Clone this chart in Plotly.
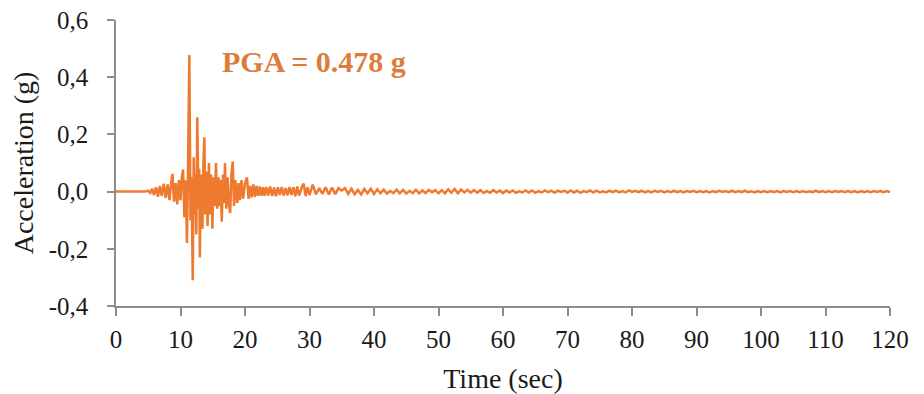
import numpy as np
import plotly.graph_objects as go

# Strong-motion part (time in s, acceleration in g)
t_main = [0, 4.5, 5.0, 5.3, 5.6, 5.9, 6.2, 6.5, 6.8, 7.1, 7.4, 7.7, 8.0, 8.3, 8.5, 8.75, 9.0,
          9.25, 9.5, 9.75, 10.0, 10.2, 10.4, 10.6, 10.8, 11.0, 11.15, 11.37, 11.55, 11.7, 11.9,
          12.05, 12.2, 12.35, 12.45, 12.6, 12.8, 12.9, 13.0, 13.15, 13.3, 13.4, 13.55, 13.7,
          13.85, 14.0, 14.2, 14.4, 14.6, 14.75, 14.95, 15.1, 15.3, 15.5, 15.7, 15.9, 16.05,
          16.2, 16.4, 16.6, 16.75, 16.9, 17.1, 17.3, 17.5, 17.7, 17.9, 18.1, 18.3, 18.5, 18.8,
          19.0, 19.2, 19.45, 19.7, 20.0, 20.3, 20.55, 20.8, 21.05, 21.3, 21.55, 21.8, 22.05,
          22.3, 22.55, 22.8, 23.05, 23.3, 23.6, 23.9, 24.2, 24.5, 24.8, 25.1, 25.4, 25.7, 26.0,
          26.3, 26.6, 26.9, 27.2, 27.5, 27.8, 28.1, 28.4, 28.8, 29.1, 29.4, 29.7, 30.0]
a_main = [0, 0, 0.003, -0.005, 0.010, -0.012, 0.015, -0.018, 0.020, -0.015, 0.028, -0.022,
          0.025, -0.030, 0.020, 0.062, -0.035, 0.030, -0.045, 0.040, -0.030, 0.050, 0.077,
          -0.090, 0.040, -0.180, 0.060, 0.478, -0.100, 0.050, -0.310, 0.120, -0.080, 0.060,
          -0.150, 0.260, -0.060, 0.080, -0.230, 0.060, -0.050, -0.130, 0.100, 0.190, -0.080,
          0.070, -0.120, 0.100, -0.080, 0.060, -0.130, 0.050, -0.050, 0.100, -0.060, 0.050,
          -0.050, 0.040, -0.105, 0.060, -0.040, 0.100, -0.060, 0.050, -0.040, -0.075, 0.060,
          0.105, -0.050, 0.040, -0.040, 0.030, -0.030, 0.040, -0.025, 0.030, 0.050, -0.025,
          0.020, -0.020, 0.025, -0.018, 0.020, -0.015, 0.018, -0.015, 0.015, -0.015, 0.016,
          -0.014, 0.018, -0.015, 0.014, -0.016, 0.015, -0.012, 0.016, -0.014, 0.012, -0.013,
          0.016, -0.012, 0.015, -0.016, 0.018, -0.014, 0.016, 0.028, -0.016, 0.015, -0.012,
          0.024]

# Coda (30.5 s to 120 s, sampled every 0.5 s)
a_tail = [
    -0.010, 0.012, -0.008, 0.015, -0.010, 0.014, -0.009, 0.012, 0.004, 0.012,
    -0.008, 0.010, -0.009, 0.006, -0.010, 0.009, -0.006, 0.010, -0.008, 0.008,
    -0.006, 0.007, -0.007, 0.002, -0.005, 0.007, -0.006, 0.006, -0.007, 0.003,
    -0.005, 0.006, -0.006, 0.004, -0.005, 0.006, -0.002, 0.005, -0.006, 0.005,
    -0.006, 0.008, -0.004, 0.009, -0.006, 0.007, -0.003, 0.006, -0.004, 0.005,
    -0.004, 0.005, -0.005, 0.002, -0.004, 0.005, -0.003, 0.004, -0.005, 0.004,
    -0.003, 0.004, -0.004, 0.001, -0.003, 0.004, -0.003, 0.004, -0.004, 0.002,
    -0.003, 0.004, -0.002, 0.003, -0.004, 0.003, -0.001, 0.003, -0.003, 0.004,
    -0.003, 0.003, -0.004, 0.002, -0.002, 0.004, -0.003, 0.003, -0.003, 0.001,
    -0.003, 0.003, -0.002, 0.003, -0.003, 0.002, -0.003, 0.004, -0.001, 0.003,
    -0.002, 0.003, -0.003, 0.002, -0.003, 0.003, -0.001, 0.003, -0.003, 0.002,
    -0.002, 0.003, -0.002, 0.002, -0.003, 0.002, -0.001, 0.003, -0.002, 0.002,
    -0.002, 0.002, -0.003, 0.002, -0.002, 0.003, -0.001, 0.002, -0.002, 0.003,
    -0.002, 0.002, -0.002, 0.003, -0.002, 0.001, -0.003, 0.002, -0.002, 0.002,
    -0.002, 0.002, -0.002, 0.002, -0.003, 0.002, -0.001, 0.002, -0.002, 0.002,
    -0.002, 0.002, -0.002, 0.001, -0.002, 0.003, -0.002, 0.002, -0.002, 0.002,
    -0.002, 0.002, -0.001, 0.002, -0.002, 0.002, -0.002, 0.002, -0.003, 0.002,
    -0.002, 0.002, -0.002, 0.002, -0.001, 0.002, -0.002, 0.002, -0.002, 0.001,
]
t_tail = list(np.arange(30.5, 120.001, 0.5))

x_ticks = [0, 10, 20, 30, 40, 50, 60, 70, 80, 90, 100, 110, 120]
y_ticks = [-0.4, -0.2, 0.0, 0.2, 0.4, 0.6]
y_tick_labels = ["-0,4", "-0,2", "0,0", "0,2", "0,4", "0,6"]
pga_label = "PGA = 0.478 g"

LINE = "#EE7A30"
AXIS = "#8C8C8C"
FONT = "Liberation Serif"

fig = go.Figure()
fig.add_trace(go.Scatter(x=t_main + t_tail, y=a_main + a_tail, mode="lines",
                         line=dict(color=LINE, width=2.5), hoverinfo="skip", showlegend=False))

fig.add_annotation(x=16.1, y=0.456, xref="x", yref="y", text="<b>" + pga_label + "</b>",
                   showarrow=False, xanchor="left", yanchor="middle",
                   font=dict(family=FONT, size=30, color="#DE7C3C"))

# page body adds an 8 px offset, so the figure is 916x386 with margins adjusted
fig.update_layout(
    width=916, height=386,
    margin=dict(l=108, r=34, t=12, b=88),
    paper_bgcolor="white", plot_bgcolor="white",
    font=dict(family=FONT, size=25, color="#1a1a1a"),
    xaxis=dict(range=[0, 120], tickvals=x_ticks, showgrid=False, zeroline=False,
               showline=True, linecolor=AXIS, linewidth=1.5, ticks="outside", ticklen=8,
               tickcolor=AXIS, tickwidth=1.5, automargin=False, ticklabelstandoff=2,
               ticklabeloverflow="allow",
               title=dict(text="Time (sec)", font=dict(size=28), standoff=17)),
    yaxis=dict(range=[-0.4, 0.6], tickvals=y_ticks, ticktext=y_tick_labels, showgrid=False,
               zeroline=False, showline=True, linecolor=AXIS, linewidth=1.5, ticks="outside",
               ticklen=7, tickcolor=AXIS, tickwidth=1.5, automargin=False,
               ticklabeloverflow="allow", ticklabelstandoff=14,
               title=dict(text="Acceleration (g)", font=dict(size=28), standoff=9)),
)

fig.write_html("out.html")
